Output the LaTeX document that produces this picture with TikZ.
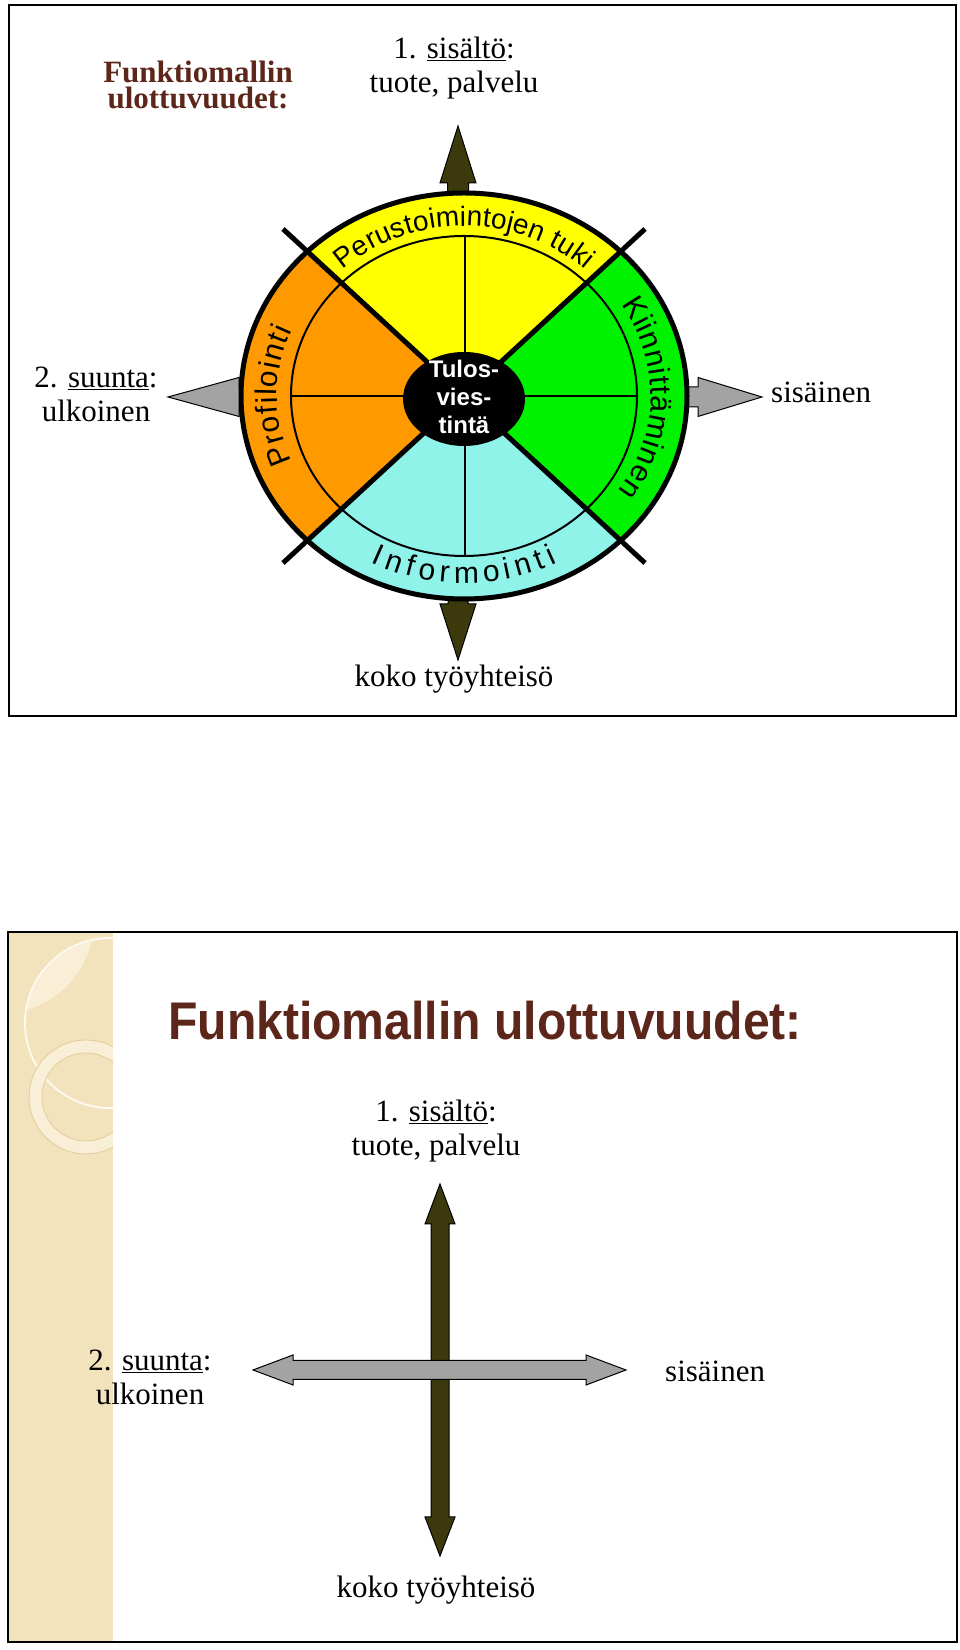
\documentclass[tikz,border=0pt]{standalone}
\usepackage{fontspec}
\setmainfont{Liberation Serif}
\setsansfont{Liberation Sans}
\usepackage{graphicx}
\usetikzlibrary{decorations.text}

\definecolor{titlebrown}{RGB}{92,38,26}
\definecolor{olivefill}{RGB}{60,58,12}
\definecolor{arrowgray}{RGB}{163,163,163}
\definecolor{sectyellow}{RGB}{255,255,0}
\definecolor{sectgreen}{RGB}{0,242,0}
\definecolor{sectcyan}{RGB}{143,243,234}
\definecolor{sectorange}{RGB}{255,153,0}
\definecolor{stripbeige}{RGB}{243,227,188}
\definecolor{stripcream}{RGB}{249,238,214}
\definecolor{striptan}{RGB}{226,203,156}

\newcommand\ringfont{\sffamily\fontsize{30}{30}\selectfont}
\newcommand\topringfont{\sffamily\fontsize{28}{28}\selectfont}

\begin{document}
\begin{tikzpicture}[x=1pt, y=1pt,
  lbl/.style={font=\fontsize{31}{34}\selectfont, align=center, anchor=base, inner sep=0pt},
  ttl/.style={font=\bfseries\fontsize{31}{26}\selectfont, text=titlebrown, align=center, anchor=base, inner sep=0pt},
  frame/.style={draw=black, line width=2.5pt},
  darrow/.style={draw=black, line width=1pt, fill=olivefill, line join=miter},
  garrow/.style={draw=black, line width=1pt, fill=arrowgray, line join=miter},
  thickline/.style={line width=5pt},
  ringtext/.style={decorate, decoration={text along path, text align={fit to path}, text={#1}}}
]
\useasboundingbox (0,0) rectangle (960,1650);

% ---------- upper slide ----------
\draw[frame] (9,1645) rectangle (956,934);

% block arrows behind the wheel
\draw[darrow] (458,1524) -- (476,1467) -- (468.5,1467) -- (468.5,1440) -- (447.5,1440) -- (447.5,1467) -- (440,1467) -- cycle;
\draw[darrow] (458,990) -- (476,1046) -- (468,1046) -- (468,1070) -- (448,1070) -- (448,1046) -- (440,1046) -- cycle;
\draw[garrow] (168,1253) -- (239,1272.5) -- (239,1263) -- (262,1263) -- (262,1243) -- (239,1243) -- (239,1233.5) -- cycle;
\draw[garrow] (762,1253) -- (698,1272.5) -- (698,1263) -- (670,1263) -- (670,1243) -- (698,1243) -- (698,1233.5) -- cycle;

% wheel
\coordinate (c) at (464,1254);
\begin{scope}
  \clip (c) ellipse [x radius=223pt, y radius=203pt];
  \fill[sectyellow] (c) -- ++(-362,334) -- ++(724,0) -- cycle;
  \fill[sectgreen] (c) -- ++(362,334) -- ++(0,-668) -- cycle;
  \fill[sectcyan] (c) -- ++(362,-334) -- ++(-724,0) -- cycle;
  \fill[sectorange] (c) -- ++(-362,-334) -- ++(0,668) -- cycle;
\end{scope}
\draw[line width=2pt] (c) ellipse [x radius=173pt, y radius=160pt];
\draw[line width=1.5pt] (465,1414) -- (465,1094);
\draw[line width=1.5pt] (291,1254) -- (637,1254);
\draw[thickline] (283,1421) -- (645,1087);
\draw[thickline] (645,1421) -- (283,1087);
\draw[thickline] (c) ellipse [x radius=223pt, y radius=203pt];

% ring labels
\path[ringtext={|\topringfont|Perustoimintojen tuki}] (c) ++(132:181pt and 170pt) arc[start angle=132, end angle=48, x radius=181pt, y radius=170pt];
\path[ringtext={|\ringfont|Kiinnitt{ä}minen}] (c) ++(33:187pt and 168pt) arc[start angle=33, end angle=-34.5, x radius=187pt, y radius=168pt];
\path[ringtext={|\ringfont|Informointi}] (c) ++(243:205pt and 187pt) arc[start angle=243, end angle=297, x radius=205pt, y radius=187pt];
\path[ringtext={|\ringfont|Profilointi}] (c) ++(203:187pt and 168pt) arc[start angle=203, end angle=157, x radius=187pt, y radius=168pt];

% centre
\fill[black] (464,1251) ellipse [x radius=61pt, y radius=47pt];
\node[text=white, font=\sffamily\bfseries\fontsize{24}{28}\selectfont, align=center, inner sep=0pt] (tulos) at (464,1253) {Tulos-\\vies-\\tintä};

% texts
\node[ttl] (title) at (198,1541) {Funktiomallin\\ulottuvuudet:};
\node[lbl] (sisalto) at (454,1557) {1. \underline{sisältö}:\\tuote, palvelu};
\node[lbl] (suunta) at (96,1228) {2. \underline{suunta}:\\ulkoinen};
\node[lbl, anchor=base west] (sisainen) at (771,1247) {sisäinen};
\node[lbl] (koko) at (454,963) {koko työyhteisö};

% ---------- lower slide ----------
\fill[stripbeige] (9,717) rectangle (113,9);
\begin{scope}
  \clip (9,717) rectangle (113,9);
  \begin{scope}
    \clip (110,627) circle (85pt);
    \fill[stripcream] (0,730) circle (94pt);
  \end{scope}
  \draw[white!70!stripcream, line width=1.8pt] (110,627) circle (85pt);
  \fill[stripcream, even odd rule, draw=striptan, line width=0.8pt] (86,553) circle (57pt) (86,553) circle (44pt);
\end{scope}
\draw[frame] (8,718) rectangle (957,8);

\node[font=\sffamily\bfseries\fontsize{53}{60}\selectfont, text=titlebrown, anchor=base, inner sep=0pt] (title2) at (485,610) {\scalebox{0.908}[1]{Funktiomallin ulottuvuudet:}};

% cross of arrows
\draw[darrow] (440,466) -- (455,426) -- (449,426) -- (449,133) -- (455,133) -- (440,94) -- (425,133) -- (431,133) -- (431,426) -- (425,426) -- cycle;
\draw[garrow] (253,280) -- (293,295) -- (293,289.5) -- (586,289.5) -- (586,295) -- (626,280) -- (586,265) -- (586,270.5) -- (293,270.5) -- (293,265) -- cycle;

\node[lbl] (sisalto2) at (436,494) {1. \underline{sisältö}:\\tuote, palvelu};
\node[lbl] (suunta2) at (150,245) {2. \underline{suunta}:\\ulkoinen};
\node[lbl, anchor=base west] (sisainen2) at (665,268) {sisäinen};
\node[lbl] (koko2) at (436,52) {koko työyhteisö};
\end{tikzpicture}
\end{document}
